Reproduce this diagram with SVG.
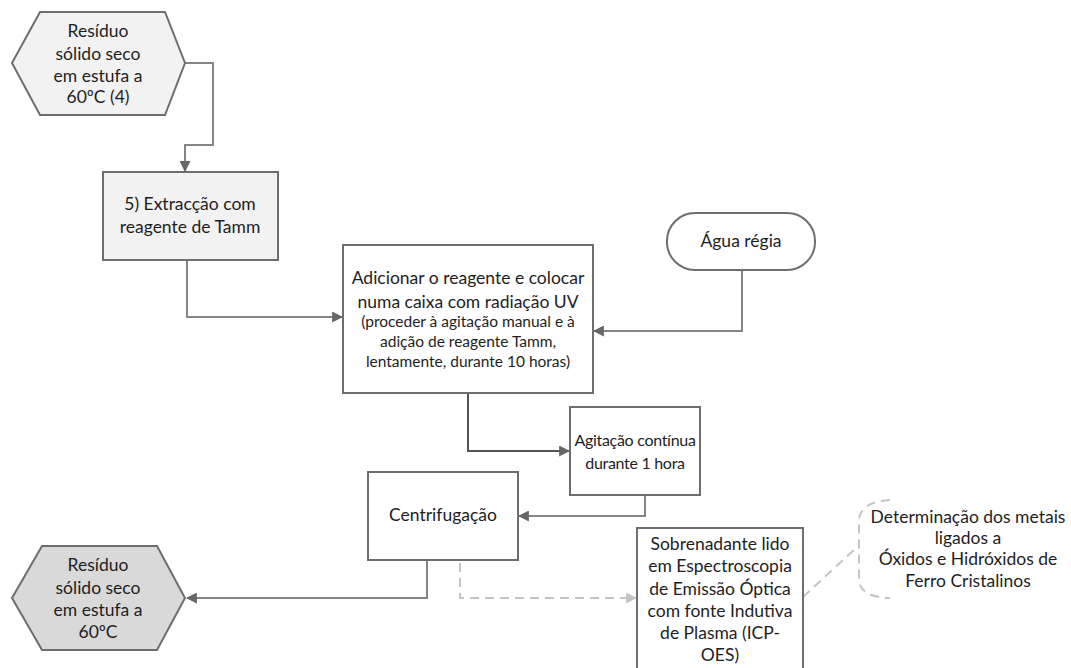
<svg xmlns="http://www.w3.org/2000/svg" width="1071" height="668" viewBox="0 0 1071 668">
  <defs>
    <style>
      .t { font-family: Lato, "Open Sans", "Liberation Sans", sans-serif; font-size: 17.5px; fill: #1e1e1e; text-anchor: middle; }
      .s { font-size: 15.5px; }
      .n { font-size: 16px; letter-spacing: -0.3px; }
      .box { fill: #ffffff; stroke: #6e6e6e; stroke-width: 2; }
      .grey { fill: #f2f2f2; }
      .dark { fill: #d9d9d9; }
      .edge { fill: none; stroke: #858585; stroke-width: 2; }
      .edgeD { fill: none; stroke: #555555; stroke-width: 2; }
      .dash { fill: none; stroke: #c4c4c4; stroke-width: 2; stroke-dasharray: 9 6; }
    </style>
    <marker id="arr" viewBox="0 0 10 10" refX="9" refY="5" markerWidth="5.5" markerHeight="5.5" orient="auto">
      <path d="M0,0 L10,5 L0,10 z" fill="#666666"/>
    </marker>
    <marker id="arrL" viewBox="0 0 10 10" refX="9" refY="5" markerWidth="5.5" markerHeight="5.5" orient="auto">
      <path d="M0,0 L10,5 L0,10 z" fill="#c4c4c4"/>
    </marker>
  </defs>
  <rect width="1071" height="668" fill="#ffffff"/>

  <!-- connectors -->
  <g id="connectors">
    <path class="edge" d="M185,63 H213 V145 H185 V171" marker-end="url(#arr)"/>
    <path class="edge" d="M187,260 V317 H342" marker-end="url(#arr)"/>
    <path class="edge" d="M742,270 V331 H594" marker-end="url(#arr)"/>
    <path class="edgeD" d="M468,393 V451 H569" marker-end="url(#arr)"/>
    <path class="edge" d="M645,495 V516 H519" marker-end="url(#arr)"/>
    <path class="edge" d="M427,560 V598 H187" marker-end="url(#arr)"/>
    <path class="dash" d="M460,563 V598 H636" marker-end="url(#arrL)"/>
    <path class="dash" d="M803,597 L856,548"/>
  </g>

  <g id="n-residuo-4">
    <polygon class="box grey" points="40,12 165,12 185,63 165,115 40,115 12,63"/>
    <text class="t" x="98" y="37">Resíduo</text>
    <text class="t" x="98" y="60">sólido seco</text>
    <text class="t" x="98" y="82">em estufa a</text>
    <text class="t" x="98" y="103">60ºC (4)</text>
  </g>

  <g id="n-extraccao">
    <rect class="box grey" x="103" y="172" width="175" height="88"/>
    <text class="t" x="190" y="210">5) Extracção com</text>
    <text class="t" x="190" y="233">reagente de Tamm</text>
  </g>

  <g id="n-adicionar">
    <rect class="box" x="343" y="245" width="250" height="148"/>
    <text class="t" x="468" y="284">Adicionar o reagente e colocar</text>
    <text class="t" x="468" y="308">numa caixa com radiação UV</text>
    <text class="t s" x="468" y="327">(proceder à agitação manual e à</text>
    <text class="t s" x="468" y="347">adição de reagente Tamm,</text>
    <text class="t s" x="468" y="367">lentamente, durante 10 horas)</text>
  </g>

  <g id="n-agua-regia">
    <rect class="box" x="667" y="213" width="148" height="57" rx="28" ry="28" stroke="#333333"/>
    <text class="t" x="741" y="247">Água régia</text>
  </g>

  <g id="n-agitacao">
    <rect class="box" x="570" y="407" width="130" height="88" stroke="#333333"/>
    <text class="t n" x="635" y="446">Agitação contínua</text>
    <text class="t n" x="635" y="469">durante 1 hora</text>
  </g>

  <g id="n-centrifugacao">
    <rect class="box" x="368" y="472" width="150" height="88"/>
    <text class="t" x="443" y="521">Centrifugação</text>
  </g>

  <g id="n-residuo-final">
    <polygon class="box dark" points="42,546 157,546 185,598 157,650 42,650 12,598"/>
    <text class="t" x="98" y="571">Resíduo</text>
    <text class="t" x="98" y="594">sólido seco</text>
    <text class="t" x="98" y="616">em estufa a</text>
    <text class="t" x="98" y="638">60ºC</text>
  </g>

  <g id="n-sobrenadante">
    <rect class="box" x="637" y="528" width="166" height="150" stroke="#333333"/>
    <text class="t" x="720" y="550">Sobrenadante lido</text>
    <text class="t" x="720" y="572">em Espectroscopia</text>
    <text class="t" x="720" y="595">de Emissão Óptica</text>
    <text class="t" x="720" y="617">com fonte Indutiva</text>
    <text class="t" x="720" y="639">de Plasma (ICP-</text>
    <text class="t" x="720" y="661">OES)</text>
  </g>

  <g id="n-nota">
    <path class="dash" d="M890,500 Q860,502 859,520 V580 Q860,597 890,598"/>
    <text class="t" x="968" y="523">Determinação dos metais</text>
    <text class="t" x="968" y="544">ligados a</text>
    <text class="t" x="968" y="565">Óxidos e Hidróxidos de</text>
    <text class="t" x="968" y="587">Ferro Cristalinos</text>
  </g>
</svg>
